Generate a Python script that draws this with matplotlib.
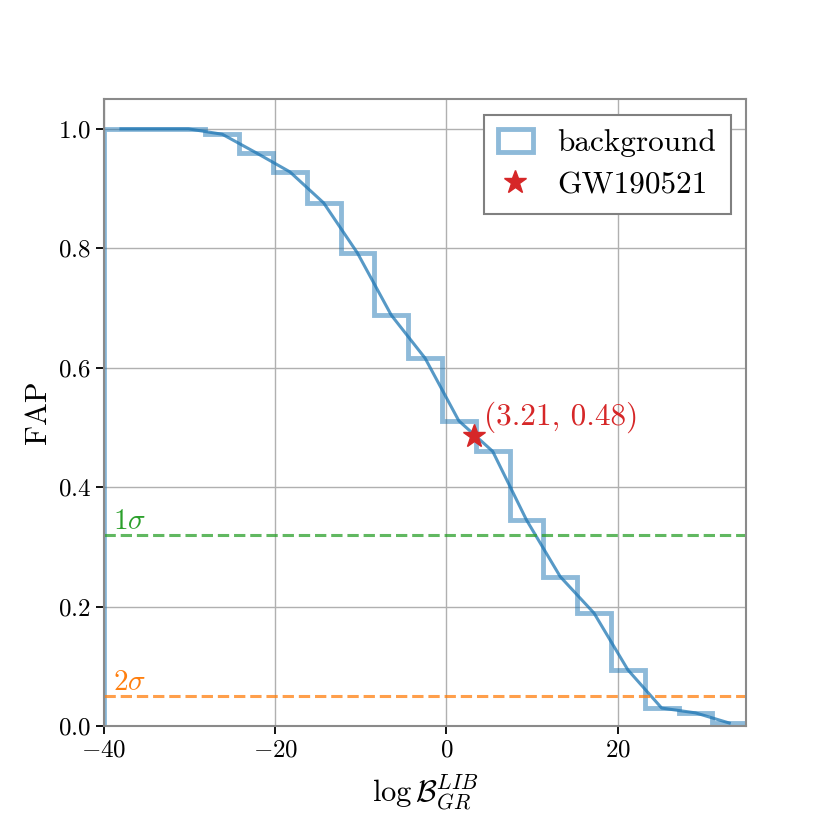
import matplotlib
matplotlib.use("Agg")
import matplotlib.pyplot as plt
from matplotlib.patches import Patch
import numpy as np

plt.rcParams['font.family'] = ['cmr10', 'DejaVu Serif']
plt.rcParams['mathtext.fontset'] = 'cm'
plt.rcParams['axes.formatter.use_mathtext'] = True
plt.rcParams['axes.unicode_minus'] = True

# background FAP, one value per bin
bin_edges = [-40.0, -36.05, -32.1, -28.16, -24.21, -20.26, -16.32, -12.37,
             -8.42, -4.47, -0.53, 3.42, 7.37, 11.32, 15.26, 19.21, 23.16,
             27.11, 31.05, 35.0]
fap = [1.0, 1.0, 1.0, 0.991, 0.960, 0.928, 0.876, 0.792, 0.688, 0.616,
       0.511, 0.460, 0.345, 0.250, 0.189, 0.094, 0.030, 0.022, 0.005]

event_name = 'GW190521'
event_x = 3.21
event_y = 0.485
event_text = '(3.21, 0.48)'

sigma_levels = [0.32, 0.05]
sigma_labels = [r'$1\sigma$', r'$2\sigma$']
sigma_colors = ['tab:green', 'tab:orange']

centers = 0.5 * (np.array(bin_edges[:-1]) + np.array(bin_edges[1:]))

fig, ax = plt.subplots(figsize=(8.3, 8.3), dpi=100)
fig.subplots_adjust(left=0.1253, right=0.899, bottom=0.1253, top=0.8807)

ax.stairs(fap, bin_edges, baseline=0, color='tab:blue', alpha=0.5, lw=3.5)
ax.plot(centers, fap, color='tab:blue', alpha=0.75, lw=2.2)

for lev, lab, col in zip(sigma_levels, sigma_labels, sigma_colors):
    ax.axhline(lev, color=col, ls='--', lw=2.2, alpha=0.75)
    ax.text(-38.9, lev + 0.01, lab, color=col, fontsize=21, va='baseline')

star, = ax.plot(event_x, event_y, '*', color='tab:red', ms=17, zorder=5)
ax.text(event_x + 1.2, event_y + 0.019, event_text, color='tab:red',
        fontsize=22.5, va='baseline')

ax.set_xlim(-40, 35)
ax.set_ylim(0, 1.05)
ax.set_xticks([-40, -20, 0, 20])
ax.set_yticks([0.0, 0.2, 0.4, 0.6, 0.8, 1.0])
ax.grid(True, color='#b0b0b0', lw=1)
ax.set_axisbelow(True)
for s in ax.spines.values():
    s.set_color('#8a8a8a')
    s.set_linewidth(1.5)
ax.tick_params(labelsize=18, length=6, width=1.3, colors='black')

ax.set_xlabel(r'$\log\mathcal{B}_{GR}^{LIB}$', fontsize=22, labelpad=8)
ax.set_ylabel('FAP', fontsize=22)

bg_handle = Patch(facecolor='none', edgecolor='tab:blue', alpha=0.5, lw=3.5)
leg = ax.legend([bg_handle, star], ['background', event_name],
                loc='upper right', fontsize=22.5, fancybox=False,
                edgecolor='#808080', framealpha=1, handlelength=1.1,
                handleheight=0.75, handletextpad=0.8, borderpad=0.45,
                labelspacing=0.45)
leg.get_frame().set_linewidth(1.5)

fig.savefig('out.png', dpi=100)
